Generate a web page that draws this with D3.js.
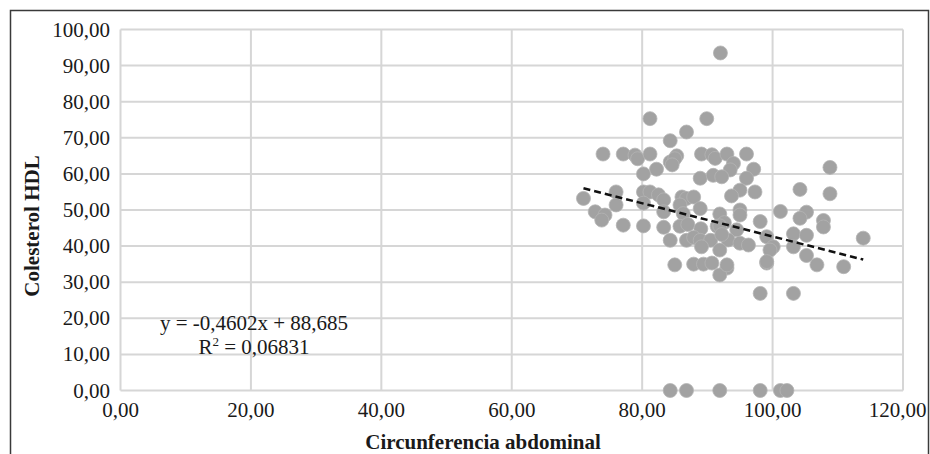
<!DOCTYPE html>
<html>
<head>
<meta charset="utf-8">
<script src="https://cdn.jsdelivr.net/npm/d3@7"></script>
<style>
  html, body { margin: 0; padding: 0; background: #ffffff; }
  svg { display: block; }
  text { font-family: "Liberation Serif", "Times New Roman", serif; fill: #1a1a1a; }
</style>
</head>
<body>
<svg id="chart" width="930" height="454"></svg>
<script>
// Waist circumference (cm) of each subject
const circunferencia = [
  92.0, 81.2, 89.9, 86.8, 84.3,
  74.0, 77.1, 78.9, 79.3, 81.2, 85.3, 89.1, 90.7, 91.2, 93.0, 96.0,
  84.3, 85.0, 84.6, 94.0,
  82.2, 93.5, 97.1, 108.8,
  80.2,
  88.9, 90.9, 92.2, 96.0,
  71.0, 76.0, 76.0, 80.2, 81.2, 82.5, 83.3, 80.2, 95.0, 93.7, 97.3, 104.2, 108.8,
  86.1, 86.8, 87.9, 85.8,
  72.8, 74.3, 73.8, 83.3, 88.9, 86.3, 95.0, 95.0, 91.9, 101.2, 105.2, 104.2, 107.8, 98.1,
  77.1, 80.2, 83.3, 85.8, 87.0, 89.0, 91.5, 92.6, 91.9, 107.8, 94.5,
  84.3, 86.8, 87.9, 88.9, 90.5, 113.9, 103.2, 105.2, 99.1, 93.2, 95.0, 96.3, 92.2,
  89.1, 91.9, 100.1, 99.6, 103.2,
  105.2,
  85.0, 87.9, 89.4, 90.7, 93.0, 91.9, 99.1, 99.1, 106.8, 110.9, 93.0,
  98.1, 103.2,
  84.3, 86.8, 91.9, 98.1, 101.2, 102.2
];

// HDL cholesterol (mg/dL) of the same subjects, in the same order
const hdl = [
  93.5, 75.3, 75.3, 71.6, 69.2,
  65.5, 65.5, 65.2, 64.2, 65.5, 65.0, 65.5, 65.3, 64.3, 65.5, 65.5,
  63.3, 64.2, 62.5, 62.9,
  61.3, 61.1, 61.3, 61.8,
  60.0,
  58.8, 59.6, 59.2, 58.8,
  53.2, 55.0, 51.4, 55.0, 55.0, 54.2, 52.8, 51.9, 55.5, 53.9, 55.0, 55.7, 54.5,
  53.6, 53.2, 53.6, 51.4,
  49.5, 48.6, 47.2, 49.5, 50.4, 49.0, 50.0, 48.6, 48.9, 49.6, 49.4, 47.7, 47.1, 46.8,
  45.8, 45.6, 45.2, 45.5, 46.0, 44.8, 45.5, 46.5, 45.6, 45.3, 44.5,
  41.6, 41.6, 42.4, 41.6, 41.6, 42.2, 43.4, 43.0, 42.6, 41.7, 40.8, 40.3, 43.2,
  39.8, 38.9, 39.8, 38.9, 39.8,
  37.4,
  34.8, 35.0, 35.0, 35.3, 33.9, 32.0, 35.3, 35.7, 34.8, 34.3, 34.8,
  26.9, 26.9,
  0, 0, 0, 0, 0, 0
];

// Linear trend line reported for the data
const pendiente = -0.4602;
const intercepto = 88.685;
const r2 = "0,06831";

// Axis ticks
const xTicks = [0, 20, 40, 60, 80, 100, 120];
const yTicks = [0, 10, 20, 30, 40, 50, 60, 70, 80, 90, 100];

const points = circunferencia.map((c, i) => ({ x: c, y: hdl[i] }));

const svg = d3.select("#chart");
const plot = { left: 120.5, right: 903, top: 29.5, bottom: 390.5 };
const frameRight = 928.5;

const x = d3.scaleLinear().domain([0, 120]).range([plot.left, plot.right]);
const y = d3.scaleLinear().domain([0, 100]).range([plot.bottom, plot.top]);

const fmt = v => d3.format(".2f")(v).replace(".", ",");

// Outer chart frame
svg.append("rect")
  .attr("x", 10.5).attr("y", 10.5)
  .attr("width", frameRight - 10.5).attr("height", 470)
  .attr("fill", "#ffffff")
  .attr("stroke", "#3a3a3a").attr("stroke-width", 1.5);

// Gridlines
const grid = svg.append("g").attr("stroke", "#d6d6d6").attr("stroke-width", 2);
grid.selectAll("line.h").data(yTicks).join("line")
  .attr("x1", plot.left).attr("x2", plot.right)
  .attr("y1", d => y(d)).attr("y2", d => y(d));
grid.selectAll("line.v").data(xTicks).join("line")
  .attr("y1", plot.top).attr("y2", plot.bottom)
  .attr("x1", d => x(d)).attr("x2", d => x(d));

// Tick labels
svg.append("g").selectAll("text").data(yTicks).join("text")
  .attr("x", 110).attr("y", d => y(d) + 7)
  .attr("text-anchor", "end")
  .attr("font-size", 21)
  .text(fmt);

// x tick labels are centred on their gridline, but kept inside the frame
svg.append("g").selectAll("text").data(xTicks).join("text")
  .attr("y", 417)
  .attr("text-anchor", "middle")
  .attr("font-size", 21)
  .text(fmt)
  .each(function (d) {
    const w = this.getComputedTextLength();
    const cx = Math.min(x(d), frameRight - 2 - w / 2);
    d3.select(this).attr("x", cx);
  });

// Axis titles
svg.append("text")
  .attr("x", 483).attr("y", 449)
  .attr("text-anchor", "middle")
  .attr("font-size", 21).attr("font-weight", "bold")
  .text("Circunferencia abdominal");

svg.append("text")
  .attr("transform", "translate(39,226) rotate(-90)")
  .attr("text-anchor", "middle")
  .attr("font-size", 21).attr("font-weight", "bold")
  .text("Colesterol HDL");

// Scatter markers
svg.append("g").selectAll("circle").data(points).join("circle")
  .attr("cx", d => x(d.x)).attr("cy", d => y(d.y))
  .attr("r", 7)
  .attr("fill", "#a2a2a2")
  .attr("stroke", "#b4b4b4").attr("stroke-width", 0.8);

// Trend line across the observed range
const [xmin, xmax] = d3.extent(circunferencia);
svg.append("line")
  .attr("x1", x(xmin)).attr("y1", y(pendiente * xmin + intercepto))
  .attr("x2", x(xmax)).attr("y2", y(pendiente * xmax + intercepto))
  .attr("stroke", "#111111").attr("stroke-width", 2.5)
  .attr("stroke-dasharray", "7,4");

// Equation label
const eq = svg.append("g").attr("font-size", 21);
eq.append("text")
  .attr("x", 254).attr("y", 330).attr("text-anchor", "middle")
  .text("y = " + String(pendiente).replace(".", ",") + "x + " + String(intercepto).replace(".", ","));
const r2t = eq.append("text")
  .attr("x", 254).attr("y", 354).attr("text-anchor", "middle");
r2t.append("tspan").text("R");
r2t.append("tspan").attr("font-size", 13).attr("dy", -8).text("2");
r2t.append("tspan").attr("dy", 8).text(" = " + r2);
</script>
</body>
</html>
